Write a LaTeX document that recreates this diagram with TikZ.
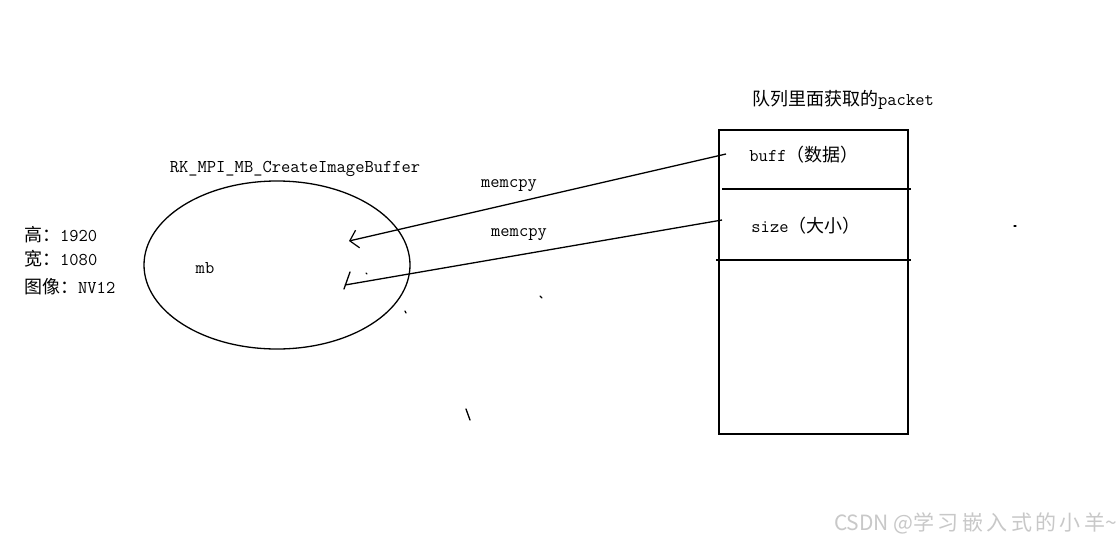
\documentclass[tikz,border=0pt]{standalone}
\usepackage{fontspec}
\newfontfamily\cjk{Noto Sans CJK SC}
\newfontfamily\wmfont{Noto Sans CJK SC}
\newfontfamily\wmcjk[LetterSpace=16]{Noto Sans CJK SC}
\usetikzlibrary{shapes.geometric,arrows.meta}
\newcommand\zh[1]{{\cjk\fontsize{18}{20}\selectfont #1}}
\definecolor{wmgray}{RGB}{200,200,200}
\tikzset{
  txt/.style={inner sep=0pt, font=\ttfamily\fontsize{18}{20}\selectfont},
  ln/.style={line width=1.3pt, black},
  cpy/.style={ln, -{Straight Barb[length=8pt,width=18pt,line width=1.2pt]}},
  speck/.style={line width=1.3pt, line cap=round}
}
\begin{document}
\begin{tikzpicture}[x=1pt,y=-1pt]
\useasboundingbox (0,0) rectangle (1120,544);
\fill[white] (0,0) rectangle (1120,544);

% ellipse (mb buffer)
\node[ellipse, draw, ln, minimum width=266pt, minimum height=168pt, inner sep=0pt] (ell) at (277,265) {};
\node[txt] (title) at (295,169) {RK\_MPI\_MB\_CreateImageBuffer};
\node[txt] (mb) at (205,268) {mb};

% left info
\node[txt, anchor=west] (h) at (24,235) {\zh{高：}1920};
\node[txt, anchor=west] (w) at (24,259) {\zh{宽：}1080};
\node[txt, anchor=west] (f) at (24,287) {\zh{图像：}NV12};

% packet box
\node[draw, ln, minimum width=189pt, minimum height=304pt, inner sep=0pt] (box) at (813.5,282) {};
\node[txt] (ptitle) at (843,100) {\zh{队列里面获取的}packet};
\coordinate (d1a) at (722,189);
\coordinate (d1b) at (911,189);
\coordinate (d2a) at (716,260);
\coordinate (d2b) at (911,260);
\draw[ln] (d1a) -- (d1b);
\draw[ln] (d2a) -- (d2b);
\node[txt] (buff) at (804,155) {buff\zh{（数据）}};
\node[txt] (size) at (806,226) {size\zh{（大小）}};

% memcpy connectors
\coordinate (s1) at (726,154);
\coordinate (e1) at (349,241);
\coordinate (s2) at (722,220);
\coordinate (e2) at (345,285);
\coordinate (h2) at (350,272);
\draw[cpy] (s1) -- (e1);
\draw[ln] (s2) -- (e2);
\draw[ln, line cap=round] (h2) -- ([shift={(-1,4)}]e2);
\node[txt] (m1) at (509,186) {memcpy};
\node[txt] (m2) at (519,235) {memcpy};

% stray marks
\draw[speck] (366,273) -- (367,274);
\draw[speck] (405,311) -- (406,313);
\draw[speck] (540,296) -- (542,298);
\draw[speck] (466,409) -- (470,420);
\draw[speck] (1014,226) -- (1016,226);

% watermark
\node[inner sep=0pt, anchor=east, text=wmgray] (wm) at (1117,523)
  {\wmfont\fontsize{21}{24}\selectfont CSDN @{\wmcjk 学习嵌入式的小羊}\textasciitilde};
\end{tikzpicture}
\end{document}
